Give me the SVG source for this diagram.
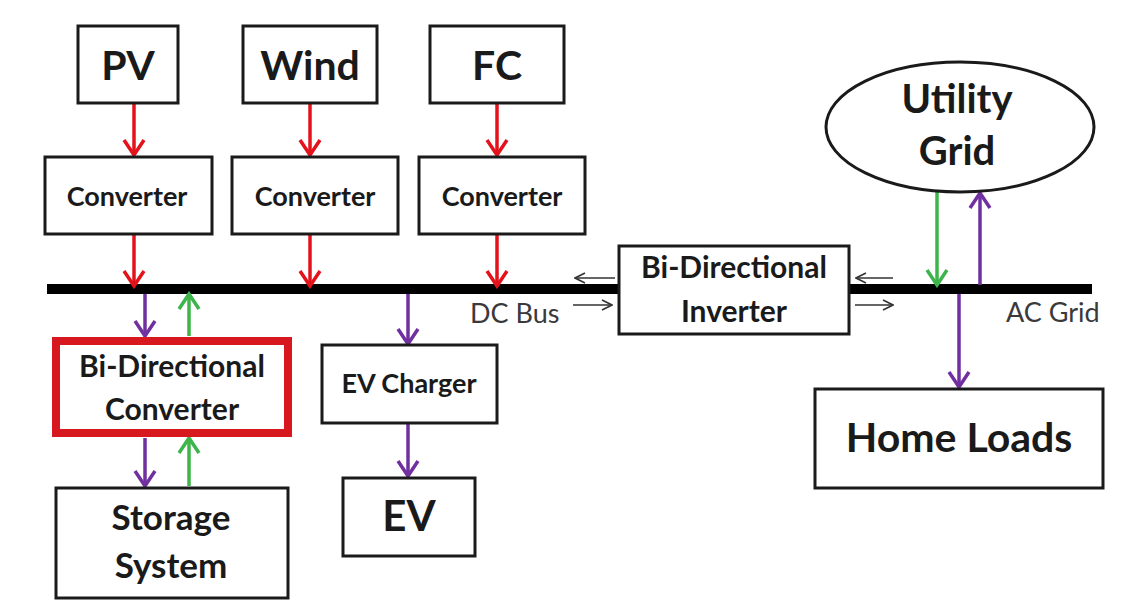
<svg xmlns="http://www.w3.org/2000/svg" width="1122" height="601" viewBox="0 0 1122 601">
<defs>
<style>
.box{fill:#fff;stroke:#1a1a1a;stroke-width:3}
.red-box{fill:#fff;stroke:#d7191f;stroke-width:8}
.t{font-family:Lato,"Open Sans","Liberation Sans",sans-serif;font-weight:bold;fill:#1a1a1a;text-anchor:middle}
.lbl{font-family:Lato,"Open Sans","Liberation Sans",sans-serif;fill:#3a3a3a;font-size:27px}
.r{stroke:#e3121b;stroke-width:3.5;fill:none}
.p{stroke:#7030a0;stroke-width:3.5;fill:none}
.g{stroke:#3db54a;stroke-width:3.5;fill:none}
.k{stroke:#333;stroke-width:1.6;fill:none}
.bus{stroke:#000;stroke-width:10}
</style>
<marker id="ar" viewBox="0 0 20 24" refX="17" refY="12" markerWidth="20" markerHeight="24" markerUnits="userSpaceOnUse" orient="auto"><path d="M2,2 L17,12 L2,22" fill="none" stroke="#e3121b" stroke-width="3.5"/></marker>
<marker id="ap" viewBox="0 0 20 24" refX="17" refY="12" markerWidth="20" markerHeight="24" markerUnits="userSpaceOnUse" orient="auto"><path d="M2,2 L17,12 L2,22" fill="none" stroke="#7030a0" stroke-width="3.5"/></marker>
<marker id="ag" viewBox="0 0 20 24" refX="17" refY="12" markerWidth="20" markerHeight="24" markerUnits="userSpaceOnUse" orient="auto"><path d="M2,2 L17,12 L2,22" fill="none" stroke="#3db54a" stroke-width="3.5"/></marker>
<marker id="ak" viewBox="0 0 12 12" refX="11" refY="6" markerWidth="12" markerHeight="12" markerUnits="userSpaceOnUse" orient="auto"><path d="M1,1 L11,6 L1,11" fill="none" stroke="#333" stroke-width="1.6"/></marker>
</defs>
<rect width="1122" height="601" fill="#fff"/>

<g id="buses">
<line class="bus" x1="47" y1="289" x2="620" y2="289"/>
<line class="bus" x1="848" y1="289" x2="1092" y2="289"/>
<text class="lbl" x="470" y="323">DC Bus</text>
<text class="lbl" x="1006" y="322">AC Grid</text>
</g>

<g id="connectors">
<line class="r" x1="134" y1="104" x2="134" y2="155" marker-end="url(#ar)"/>
<line class="r" x1="310" y1="104" x2="310" y2="155" marker-end="url(#ar)"/>
<line class="r" x1="497" y1="104" x2="497" y2="155" marker-end="url(#ar)"/>
<line class="r" x1="134" y1="235" x2="134" y2="286" marker-end="url(#ar)"/>
<line class="r" x1="310" y1="235" x2="310" y2="286" marker-end="url(#ar)"/>
<line class="r" x1="497" y1="235" x2="497" y2="286" marker-end="url(#ar)"/>
<line class="p" x1="145" y1="294" x2="145" y2="336" marker-end="url(#ap)"/>
<line class="g" x1="189" y1="336" x2="189" y2="294" marker-end="url(#ag)"/>
<line class="p" x1="145" y1="438" x2="145" y2="486" marker-end="url(#ap)"/>
<line class="g" x1="189" y1="486" x2="189" y2="438" marker-end="url(#ag)"/>
<line class="p" x1="408" y1="294" x2="408" y2="344" marker-end="url(#ap)"/>
<line class="p" x1="408" y1="424" x2="408" y2="476" marker-end="url(#ap)"/>
<line class="g" x1="937" y1="192" x2="937" y2="285" marker-end="url(#ag)"/>
<line class="p" x1="980" y1="285" x2="980" y2="193" marker-end="url(#ap)"/>
<line class="p" x1="959" y1="294" x2="959" y2="387" marker-end="url(#ap)"/>
<line class="k" x1="615" y1="278" x2="575" y2="278" marker-end="url(#ak)"/>
<line class="k" x1="573" y1="305" x2="612" y2="305" marker-end="url(#ak)"/>
<line class="k" x1="893" y1="278" x2="856" y2="278" marker-end="url(#ak)"/>
<line class="k" x1="855" y1="305" x2="893" y2="305" marker-end="url(#ak)"/>
</g>

<g id="pv"><rect class="box" x="78" y="26" width="100" height="77"/><text class="t" x="128" y="80" font-size="41">PV</text></g>
<g id="wind"><rect class="box" x="243" y="26" width="134" height="77"/><text class="t" x="310" y="80" font-size="41">Wind</text></g>
<g id="fc"><rect class="box" x="430" y="26" width="134" height="77"/><text class="t" x="497" y="80" font-size="41">FC</text></g>
<g id="conv-pv"><rect class="box" x="45" y="157" width="167" height="77"/><text class="t" x="127" y="206" font-size="27">Converter</text></g>
<g id="conv-wind"><rect class="box" x="232" y="157" width="166" height="77"/><text class="t" x="315" y="206" font-size="27">Converter</text></g>
<g id="conv-fc"><rect class="box" x="419" y="157" width="166" height="77"/><text class="t" x="502" y="206" font-size="27">Converter</text></g>
<g id="inverter"><rect class="box" x="619" y="246" width="230" height="88"/><text class="t" x="734" y="278" font-size="30">Bi-Directional</text><text class="t" x="734" y="322" font-size="30">Inverter</text></g>
<g id="utility-grid"><ellipse cx="960" cy="127" rx="134" ry="65" fill="#fff" stroke="#1a1a1a" stroke-width="3"/><text class="t" x="957" y="113" font-size="40">Utility</text><text class="t" x="957" y="165" font-size="40">Grid</text></g>
<g id="bidir-converter"><rect class="red-box" x="56" y="341" width="232" height="92"/><text class="t" x="172" y="377" font-size="30">Bi-Directional</text><text class="t" x="172" y="420" font-size="30">Converter</text></g>
<g id="storage"><rect class="box" x="56" y="488" width="232" height="110"/><text class="t" x="171" y="530" font-size="35">Storage</text><text class="t" x="171" y="578" font-size="35">System</text></g>
<g id="ev-charger"><rect class="box" x="322" y="345" width="175" height="78"/><text class="t" x="409" y="393" font-size="27">EV Charger</text></g>
<g id="ev"><rect class="box" x="343" y="478" width="132" height="78"/><text class="t" x="409" y="531" font-size="42">EV</text></g>
<g id="home-loads"><rect class="box" x="815" y="389" width="288" height="99"/><text class="t" x="959" y="452" font-size="41">Home Loads</text></g>
</svg>
